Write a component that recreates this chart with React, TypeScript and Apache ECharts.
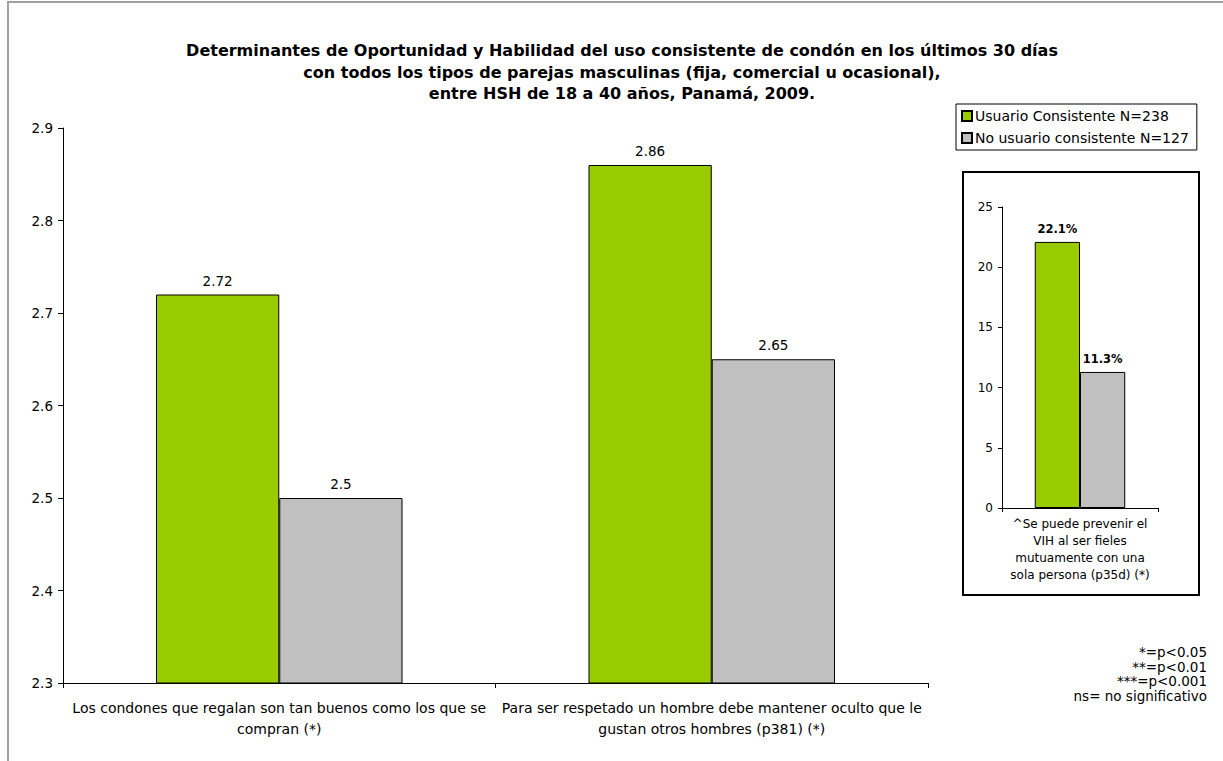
import React, { useEffect, useRef } from "react";
import * as echarts from "echarts";

const titleLines = [
  "Determinantes de Oportunidad y Habilidad del uso consistente de condón en los últimos 30 días",
  "con todos los tipos de parejas masculinas (fija, comercial u ocasional),",
  "entre HSH de 18 a 40 años, Panamá, 2009.",
];
const seriesNames = ["Usuario Consistente N=238", "No usuario consistente N=127"];
const categories = [
  "Los condones que regalan son tan buenos como los que se\ncompran (*)",
  "Para ser respetado un hombre debe mantener oculto que le\ngustan otros hombres (p381) (*)",
];
const usuario = [2.72, 2.86];
const noUsuario = [2.5, 2.65];
const insetCategories = [
  "^Se puede prevenir el\nVIH al ser fieles\nmutuamente con una\nsola persona (p35d) (*)",
];
const insetUsuario = [22.1];
const insetNoUsuario = [11.3];
const footnotes = ["*=p<0.05", "**=p<0.01", "***=p<0.001", "ns= no significativo"];

const GREEN = "#99cc00";
const GRAY = "#c0c0c0";
const FONT = "DejaVu Sans, Liberation Sans, Arial, sans-serif";

export default function App() {
  const ref = useRef<HTMLDivElement>(null);
  useEffect(() => {
    if (!ref.current) return;
    const chart = echarts.init(ref.current, undefined, { renderer: "svg" });
    const barStyle = (c: string) => ({ color: c, borderColor: "#000", borderWidth: 1 });
    const insetLabel = {
      show: true,
      position: "top",
      distance: 7,
      fontFamily: FONT,
      fontSize: 11.5,
      fontWeight: "bold",
      color: "#000",
      formatter: (p: any) => `${p.value}%`,
    };
    const mainLabel = { show: true, position: "top", distance: 7, fontFamily: FONT, fontSize: 13.5, color: "#000" };
    chart.setOption({
      animation: false,
      backgroundColor: "#fff",
      textStyle: { fontFamily: FONT, color: "#000" },
      title: {
        text: titleLines.join("\n"),
        left: 617,
        top: 35,
        textAlign: "center",
        textStyle: { fontFamily: FONT, fontSize: 16, fontWeight: "bold", color: "#000", lineHeight: 21.5 },
      },
      legend: {
        data: seriesNames,
        orient: "vertical",
        left: 956,
        top: 104,
        padding: [5, 8, 5, 5],
        itemGap: 8,
        itemWidth: 10,
        itemHeight: 10,
        icon: "rect",
        borderColor: "#000",
        borderWidth: 1,
        textStyle: { fontFamily: FONT, fontSize: 14, color: "#000", padding: [0, 0, 0, -2] },
      },
      graphic: [
        {
          type: "rect",
          shape: { x: 8, y: 2, width: 1240, height: 790 },
          style: { fill: "none", stroke: "#a0a0a0", lineWidth: 2 },
          silent: true,
        },
        {
          type: "rect",
          shape: { x: 963, y: 172, width: 236, height: 423 },
          style: { fill: "none", stroke: "#000", lineWidth: 2 },
          silent: true,
        },
        {
          type: "text",
          right: 16,
          top: 645,
          style: {
            text: footnotes.join("\n"),
            font: `13.5px ${FONT}`,
            fill: "#000",
            textAlign: "right",
            lineHeight: 14.5,
          },
        },
      ],
      grid: [
        { left: 63, top: 128, width: 865, height: 555 },
        { left: 1002, top: 207, width: 156, height: 301 },
      ],
      xAxis: [
        {
          type: "category",
          gridIndex: 0,
          data: categories,
          axisLine: { lineStyle: { color: "#000", width: 1 } },
          axisTick: { show: true, length: 5, lineStyle: { color: "#000" } },
          axisLabel: { fontFamily: FONT, fontSize: 14, color: "#000", lineHeight: 21, margin: 14, interval: 0 },
        },
        {
          type: "category",
          gridIndex: 1,
          data: insetCategories,
          axisLine: { lineStyle: { color: "#000", width: 1 } },
          axisTick: { show: true, length: 4, lineStyle: { color: "#000" } },
          axisLabel: { fontFamily: FONT, fontSize: 12, color: "#000", lineHeight: 17, margin: 7, interval: 0 },
        },
      ],
      yAxis: [
        {
          type: "value",
          gridIndex: 0,
          min: 2.3,
          max: 2.9,
          interval: 0.1,
          splitLine: { show: false },
          axisLine: { show: true, lineStyle: { color: "#000", width: 1 } },
          axisTick: { show: true, length: 5, lineStyle: { color: "#000" } },
          axisLabel: {
            fontFamily: FONT,
            fontSize: 13.5,
            color: "#000",
            margin: 10,
            formatter: (v: number) => v.toFixed(1),
          },
        },
        {
          type: "value",
          gridIndex: 1,
          min: 0,
          max: 25,
          interval: 5,
          splitLine: { show: false },
          axisLine: { show: true, lineStyle: { color: "#000", width: 1 } },
          axisTick: { show: true, length: 4, lineStyle: { color: "#000" } },
          axisLabel: { fontFamily: FONT, fontSize: 12, color: "#000", margin: 9 },
        },
      ],
      series: [
        {
          name: seriesNames[0],
          type: "bar",
          xAxisIndex: 0,
          yAxisIndex: 0,
          data: usuario,
          barGap: "0%",
          barCategoryGap: "43%",
          itemStyle: barStyle(GREEN),
          label: mainLabel,
        },
        {
          name: seriesNames[1],
          type: "bar",
          xAxisIndex: 0,
          yAxisIndex: 0,
          data: noUsuario,
          barGap: "0%",
          barCategoryGap: "43%",
          itemStyle: barStyle(GRAY),
          label: mainLabel,
        },
        {
          name: seriesNames[0],
          type: "bar",
          xAxisIndex: 1,
          yAxisIndex: 1,
          data: insetUsuario,
          barGap: "0%",
          barCategoryGap: "42%",
          itemStyle: barStyle(GREEN),
          label: insetLabel,
        },
        {
          name: seriesNames[1],
          type: "bar",
          xAxisIndex: 1,
          yAxisIndex: 1,
          data: insetNoUsuario,
          barGap: "0%",
          barCategoryGap: "42%",
          itemStyle: barStyle(GRAY),
          label: insetLabel,
        },
      ],
    });
    return () => chart.dispose();
  }, []);
  return (
    <div
      ref={ref}
      style={{ position: "fixed", left: 0, top: 0, width: 1223, height: 761, background: "#fff" }}
    />
  );
}
